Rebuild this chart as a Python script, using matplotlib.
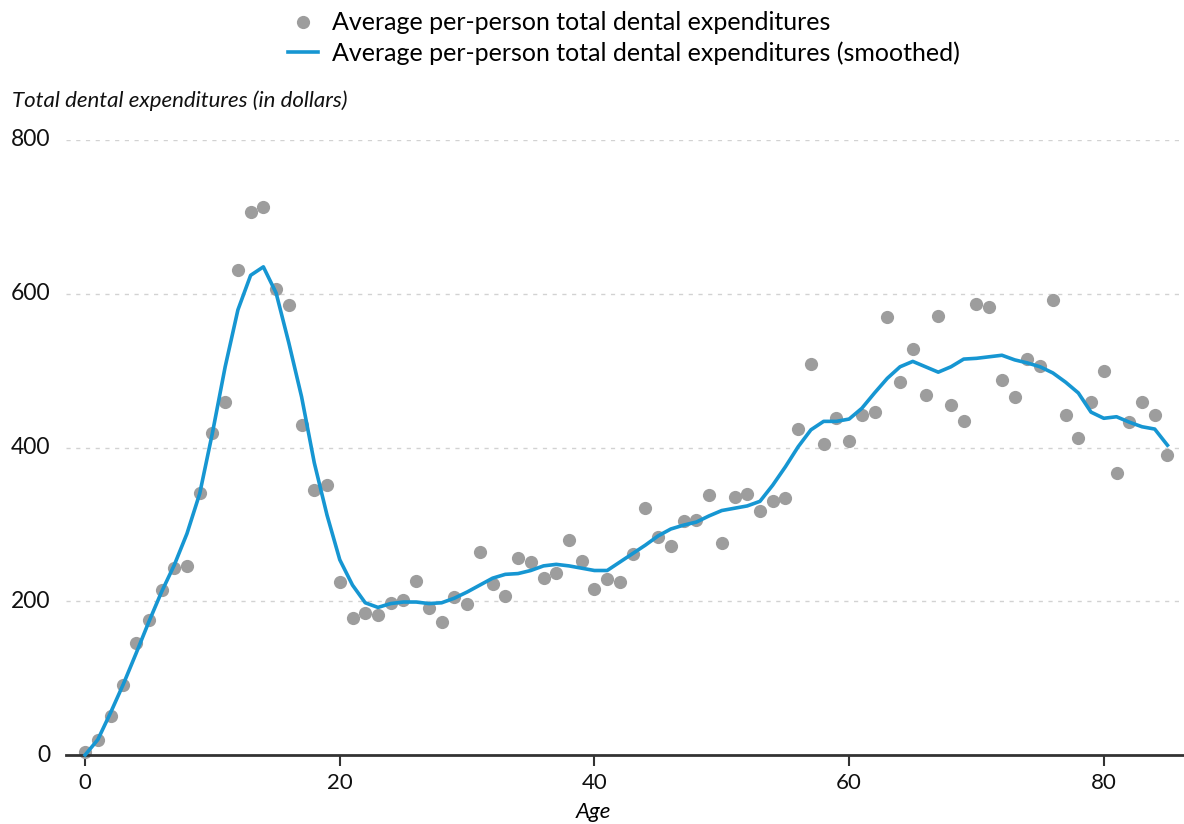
import matplotlib
matplotlib.use("Agg")
import matplotlib.pyplot as plt
from matplotlib.lines import Line2D

ages = list(range(0, 86))
avg_exp = [4, 20, 51, 91, 146, 176, 215, 243, 246, 341,
           419, 459, 631, 706, 713, 606, 585, 429, 345, 351,
           225, 178, 185, 182, 198, 202, 226, 191, 173, 205,
           196, 264, 222, 207, 256, 251, 230, 237, 280, 252,
           216, 229, 225, 261, 321, 283, 272, 304, 306, 338,
           276, 335, 340, 317, 330, 334, 424, 508, 404, 438,
           409, 442, 446, 570, 485, 528, 468, 571, 455, 434,
           587, 583, 488, 466, 515, 506, 592, 442, 412, 459,
           499, 367, 433, 459, 442, 390]
smoothed = [0, 20, 55, 92, 132, 173, 212, 247, 288, 340,
            419, 505, 579, 624, 635, 601, 536, 466, 380, 312,
            254, 221, 198, 192, 197, 199, 199, 197, 198, 204,
            212, 221, 230, 235, 236, 240, 246, 248, 246, 243,
            240, 240, 251, 262, 273, 285, 294, 299, 303, 311,
            318, 321, 324, 330, 351, 375, 401, 423, 434, 434,
            437, 451, 471, 490, 505, 512, 505, 498, 505, 515,
            516, 518, 520, 514, 510, 505, 497, 485, 471, 446,
            438, 440, 433, 427, 424, 403]
xticks = [0, 20, 40, 60, 80]
yticks = [0, 200, 400, 600, 800]

FONT = ["Lato", "DejaVu Sans"]
plt.rcParams["font.family"] = FONT

fig = plt.figure(figsize=(11.84, 8.24), dpi=100)
ax = fig.add_axes([66/1184, 1-755/824, 1-66/1184, (755-140)/824])

ax.plot(ages, avg_exp, "o", color="#9d9d9d", ms=9.5, mec="none", clip_on=False, zorder=2)
ax.plot(ages, smoothed, "-", color="#1696d2", lw=2.6, clip_on=False, zorder=3)

ax.set_xlim(-1.5, 86.3)
ax.set_ylim(0, 800)
ax.set_xticks(xticks)
ax.set_yticks(yticks)
ax.tick_params(axis="x", length=8, width=1.5, color="#333333", labelsize=16, pad=5, labelcolor="#111111")
ax.tick_params(axis="y", length=0, labelsize=16.5, pad=11, labelcolor="#111111")
for s in ["top", "right", "left"]:
    ax.spines[s].set_visible(False)
ax.spines["bottom"].set_linewidth(2)
ax.spines["bottom"].set_color("#333333")
ax.yaxis.grid(True, color="#d2d2d2", linestyle=(0, (3, 4)), linewidth=1)
ax.set_axisbelow(True)
for lab in ax.get_yticklabels():
    lab.set_verticalalignment("center")

ax.set_xlabel("Age", fontsize=16, style="italic")
ax.xaxis.set_label_coords((593-66)/(1184-66), -(812-755)/615, transform=ax.transAxes)
ax.xaxis.label.set_va("center")
fig.text(12/1184, 1-101/824, "Total dental expenditures (in dollars)", fontsize=16,
         style="italic", va="center", ha="left", color="#111111")

handles = [Line2D([], [], marker="o", ls="none", color="#9d9d9d", mec="none", ms=9.5),
           Line2D([], [], color="#1696d2", lw=2.6)]
labels = ["Average per-person total dental expenditures",
          "Average per-person total dental expenditures (smoothed)"]
fig.legend(handles, labels, loc="upper center", bbox_to_anchor=(624/1184, 1+11/824),
           frameon=False, fontsize=18, handlelength=1.2, handletextpad=0.55,
           labelspacing=0.28)

fig.savefig("out.png", dpi=100)
